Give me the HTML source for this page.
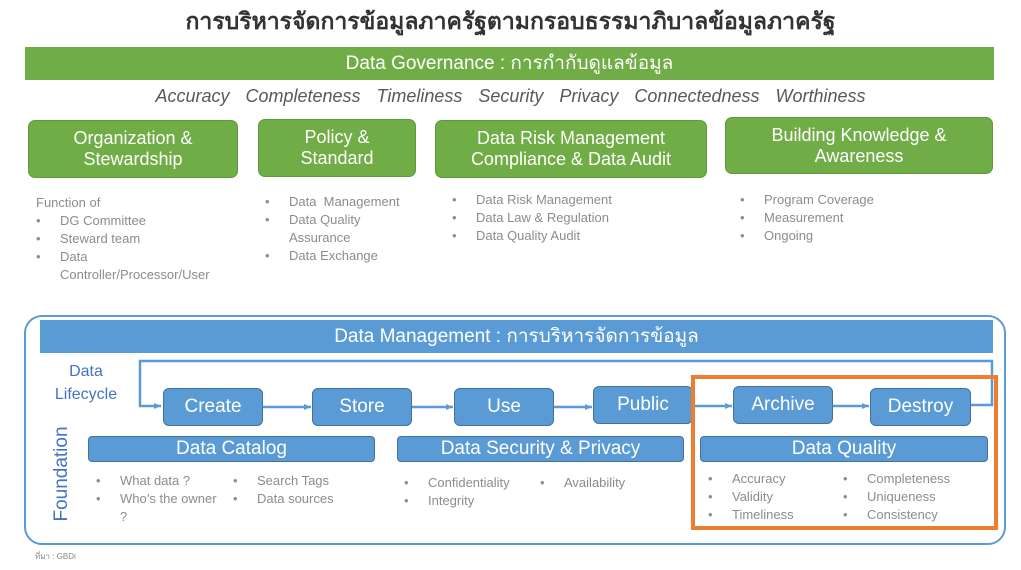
<!DOCTYPE html>
<html><head><meta charset="utf-8"><style>
body{margin:0;width:1021px;height:570px;background:#fff;position:relative;overflow:hidden;font-family:"Liberation Sans","Noto Sans CJK SC",sans-serif}
.a{position:absolute}
.g{position:absolute;background:#70ad47;color:#fff;border-radius:7px;border:1px solid #5e9a3c;display:flex;align-items:center;justify-content:center;text-align:center;font-size:18px;line-height:21px;box-sizing:border-box}
.b{position:absolute;background:#5b9bd5;color:#fff;border-radius:6px;border:1.5px solid #41719c;display:flex;align-items:center;justify-content:center;font-size:19px;box-sizing:border-box}
.f{position:absolute;background:#5b9bd5;color:#fff;border-radius:4px;border:1px solid #41719c;display:flex;align-items:center;justify-content:center;font-size:19px;box-sizing:border-box}
.l{position:absolute;color:#8c8c8c;font-size:13px;line-height:18px}
.l div{position:relative;padding-left:24px}
.l div:before{content:"•";position:absolute;left:0}
</style></head><body>
<div class="a" style="left:0;width:1021px;top:4px;text-align:center;font-size:23px;font-weight:bold;color:#333">การบริหารจัดการข้อมูลภาครัฐตามกรอบธรรมาภิบาลข้อมูลภาครัฐ</div>
<div class="a" style="left:25px;top:47px;width:969px;height:33px;background:#70ad47;color:#fff;font-size:19px;line-height:33px;text-align:center">Data Governance : การกำกับดูแลข้อมูล</div>
<div class="a" style="left:0;width:1021px;top:86px;text-align:center;font-size:18px;font-style:italic;color:#595959;word-spacing:3px">Accuracy&nbsp; Completeness&nbsp; Timeliness&nbsp; Security&nbsp; Privacy&nbsp; Connectedness&nbsp; Worthiness</div>
<div class="g" style="left:28px;top:120px;width:210px;height:58px">Organization &amp;<br>Stewardship</div>
<div class="g" style="left:258px;top:119px;width:158px;height:58px">Policy &amp;<br>Standard</div>
<div class="g" style="left:435px;top:120px;width:272px;height:58px">Data Risk Management<br>Compliance &amp; Data Audit</div>
<div class="g" style="left:725px;top:117px;width:268px;height:57px">Building Knowledge &amp;<br>Awareness</div>
<div class="l" style="left:36px;top:194px">Function of<div>DG Committee</div><div>Steward team</div><div>Data<br>Controller/Processor/User</div></div>
<div class="l" style="left:265px;top:193px"><div>Data&nbsp; Management</div><div>Data Quality<br>Assurance</div><div>Data Exchange</div></div>
<div class="l" style="left:452px;top:191px"><div>Data Risk Management</div><div>Data Law &amp; Regulation</div><div>Data Quality Audit</div></div>
<div class="l" style="left:740px;top:191px"><div>Program Coverage</div><div>Measurement</div><div>Ongoing</div></div>

<div class="a" style="left:24px;top:315px;width:982px;height:230px;border:2px solid #5b9bd5;border-radius:18px;box-sizing:border-box"></div>
<div class="a" style="left:40px;top:320px;width:953px;height:33px;background:#5b9bd5;color:#fff;font-size:19px;line-height:33px;text-align:center">Data Management : การบริหารจัดการข้อมูล</div>
<div class="a" style="left:40px;top:360px;width:92px;text-align:center;color:#4472c4;font-size:16px;line-height:23px">Data<br>Lifecycle</div>
<div class="a" style="left:62px;top:474px;transform:translate(-50%,-50%) rotate(-90deg);color:#4472c4;font-size:19px;white-space:nowrap">Foundation</div>
<svg class="a" style="left:0;top:0" width="1021" height="570">
<defs><marker id="m" markerUnits="userSpaceOnUse" markerWidth="8" markerHeight="8" refX="7" refY="4" orient="auto"><path d="M0,1 L7,4 L0,7z" fill="#5b9bd5"/></marker></defs>
<g stroke="#5b9bd5" stroke-width="2.5" fill="none">
<path d="M971,405 H992 V361 H140 V406 H161" marker-end="url(#m)"/>
<path d="M263,407 H311" marker-end="url(#m)"/>
<path d="M412,407 H453" marker-end="url(#m)"/>
<path d="M554,407 H592" marker-end="url(#m)"/>
<path d="M693,406 H732" marker-end="url(#m)"/>
<path d="M833,406 H869" marker-end="url(#m)"/>
</g></svg>
<div class="b" style="left:163px;top:388px;width:100px;height:38px">Create</div>
<div class="b" style="left:312px;top:388px;width:100px;height:38px">Store</div>
<div class="b" style="left:454px;top:388px;width:100px;height:38px">Use</div>
<div class="b" style="left:593px;top:386px;width:100px;height:38px">Public</div>
<div class="b" style="left:733px;top:386px;width:100px;height:38px">Archive</div>
<div class="b" style="left:870px;top:388px;width:101px;height:38px">Destroy</div>
<div class="f" style="left:88px;top:436px;width:287px;height:26px">Data Catalog</div>
<div class="f" style="left:397px;top:436px;width:287px;height:26px">Data Security &amp; Privacy</div>
<div class="f" style="left:700px;top:436px;width:288px;height:26px">Data Quality</div>
<div class="l" style="left:96px;top:472px"><div>What data ?</div><div>Who’s the owner<br>?</div></div>
<div class="l" style="left:233px;top:472px"><div>Search Tags</div><div>Data sources</div></div>
<div class="l" style="left:404px;top:474px"><div>Confidentiality</div><div>Integrity</div></div>
<div class="l" style="left:540px;top:474px"><div>Availability</div></div>
<div class="l" style="left:708px;top:470px"><div>Accuracy</div><div>Validity</div><div>Timeliness</div></div>
<div class="l" style="left:843px;top:470px"><div>Completeness</div><div>Uniqueness</div><div>Consistency</div></div>
<div class="a" style="left:691px;top:375px;width:307px;height:155px;border:4px solid #ed7d31;box-sizing:border-box"></div>
<div class="a" style="left:35px;top:550px;font-size:8px;color:#888">ที่มา : GBDi</div>
</body></html>
